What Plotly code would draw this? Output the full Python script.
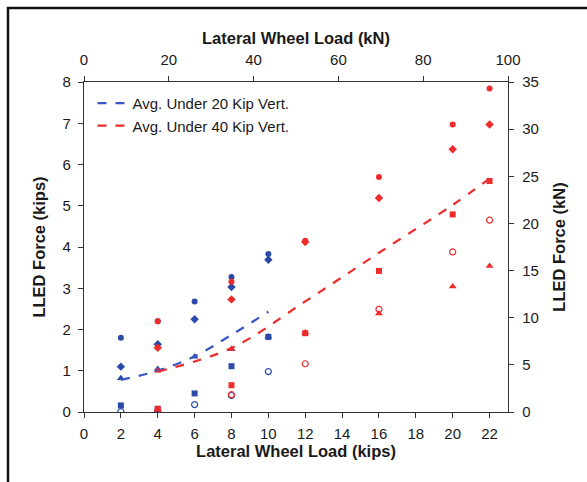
import plotly.graph_objects as go

# ---- data ----
blue_x = [2, 4, 6, 8, 10]
blue_circle = [1.80, 2.20, 2.68, 3.27, 3.83]
blue_diamond = [1.10, 1.64, 2.25, 3.03, 3.69]
blue_triangle = [0.82, 1.04, 1.34, 1.52, 1.83]
blue_square = [0.16, 0.07, 0.45, 1.11, 1.82]
blue_open = [0.01, 0.03, 0.18, 0.40, 0.98]
blue_avg = [0.78, 1.00, 1.35, 1.87, 2.43]

red_x = [4, 8, 12, 16, 20, 22]
red_circle = [2.20, 3.16, 4.15, 5.70, 6.97, 7.84]
red_diamond = [1.56, 2.73, 4.12, 5.19, 6.37, 6.97]
red_triangle = [1.00, 1.53, 1.93, 2.39, 3.04, 3.54]
red_square = [0.08, 0.65, 1.91, 3.42, 4.79, 5.60]
red_open = [0.03, 0.42, 1.17, 2.49, 3.88, 4.65]
red_avg = [0.98, 1.55, 2.68, 3.86, 5.02, 5.66]

legend_names = ["Avg. Under 20 Kip Vert.", "Avg. Under 40 Kip Vert."]
x_title = "Lateral Wheel Load (kips)"
x2_title = "Lateral Wheel Load (kN)"
y_title = "LLED Force (kips)"
y2_title = "LLED Force (kN)"

BLUE = "#2b4aa8"
BLUE_LINE = "#3a55c6"
RED = "#ee2b2b"
FONT = "Arial, Liberation Sans, sans-serif"
TXT = "#1a1a1a"

fig = go.Figure()

marker_specs = [
    ("circle", 6), ("diamond", 6.5), ("triangle-up", 7), ("square", 6), ("circle-open", 6),
]

blue_sets = [blue_circle, blue_diamond, blue_triangle, blue_square, blue_open]
red_sets = [red_circle, red_diamond, red_triangle, red_square, red_open]

for (sym, sz), ys in zip(marker_specs, blue_sets):
    fig.add_trace(go.Scatter(x=blue_x, y=ys, mode="markers", showlegend=False,
                             marker=dict(symbol=sym, size=sz, color=BLUE,
                                         line=dict(width=1.2 if "open" in sym else 0, color=BLUE))))
for (sym, sz), ys in zip(marker_specs, red_sets):
    fig.add_trace(go.Scatter(x=red_x, y=ys, mode="markers", showlegend=False,
                             marker=dict(symbol=sym, size=sz, color=RED,
                                         line=dict(width=1.2 if "open" in sym else 0, color=RED))))

fig.add_trace(go.Scatter(x=blue_x, y=blue_avg, mode="lines", name=legend_names[0],
                         line=dict(color=BLUE_LINE, width=2.2, dash="dash", shape="spline")))
fig.add_trace(go.Scatter(x=red_x, y=red_avg, mode="lines", name=legend_names[1],
                         line=dict(color=RED, width=2.2, dash="dash", shape="spline")))

# invisible trace to activate secondary axes
fig.add_trace(go.Scatter(x=[0], y=[0], xaxis="x2", yaxis="y2", mode="markers",
                         marker=dict(opacity=0), showlegend=False, hoverinfo="skip"))

axis_common = dict(showline=True, linecolor="#333", linewidth=1.3, ticks="outside",
                   ticklen=5, tickcolor="#333", showgrid=False, zeroline=False,
                   tickfont=dict(family=FONT, size=15, color=TXT))
title_font = dict(family=FONT, size=16.5, color=TXT)

fig.update_layout(
    width=587, height=482,
    margin=dict(l=84, r=79, t=82, b=70),
    paper_bgcolor="white", plot_bgcolor="white",
    font=dict(family=FONT, color=TXT),
    xaxis=dict(range=[0, 23], tick0=0, dtick=2, ticklabelstandoff=3,
               title=dict(text=f"<b>{x_title}</b>", font=title_font, standoff=3),
               **axis_common),
    xaxis2=dict(range=[0, 100], tick0=0, dtick=20, overlaying="x", side="top",
                ticklabelstandoff=5,
                title=dict(text=f"<b>{x2_title}</b>", font=title_font, standoff=2),
                **axis_common),
    yaxis=dict(range=[0, 8], tick0=0, dtick=1, ticklabelstandoff=4,
               title=dict(text=f"<b>{y_title}</b>", font=title_font, standoff=12),
               **axis_common),
    yaxis2=dict(range=[0, 35], tick0=0, dtick=5, overlaying="y", side="right",
                ticklabelstandoff=5,
                title=dict(text=f"<b>{y2_title}</b>", font=title_font, standoff=15),
                **axis_common),
    legend=dict(x=0.02, y=0.985, xanchor="left", yanchor="top", bgcolor="rgba(0,0,0,0)",
                font=dict(family=FONT, size=15, color=TXT), tracegroupgap=0),
    shapes=[dict(type="rect", xref="paper", yref="paper",
                 x0=(8 - 84) / 424, x1=1.3, y0=-0.3, y1=(412 - 8) / 330,
                 line=dict(color="#111", width=2.5), fillcolor="rgba(0,0,0,0)", layer="below")],
)

fig.write_html("out.html")
